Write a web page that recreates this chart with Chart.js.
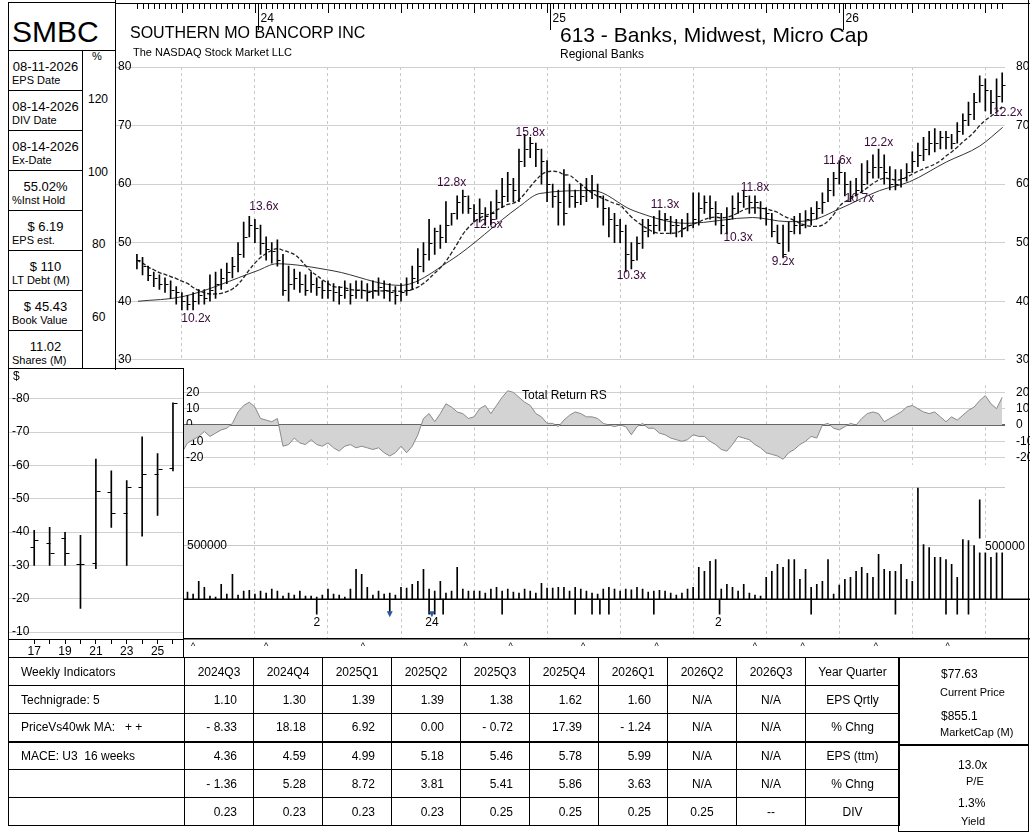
<!DOCTYPE html>
<html>
<head>
<meta charset="utf-8">
<script src="https://cdn.jsdelivr.net/npm/chart.js@4"></script>
<style>
body{margin:0;background:#fff;font-family:"Liberation Sans",Arial,sans-serif;color:#000;}
#wrap{position:relative;width:1032px;height:840px;overflow:hidden;}
canvas{position:absolute;}
.t{position:absolute;white-space:nowrap;}
.box{position:absolute;border:1px solid #000;box-sizing:border-box;}
table{position:absolute;left:8px;top:657px;border-collapse:collapse;font-size:12px;}
td{border:1px solid #000;height:28px;padding:0;box-sizing:border-box;}
td.n{text-align:right;padding-right:16px;}
td.c{text-align:center;}
td.l{text-align:left;padding-left:12px;}
tr.heavy td{border-top:2px solid #000;}
</style>
</head>
<body>
<div id="wrap">
  <!-- panneau gauche -->
  <div class="box" style="left:8px;top:2px;width:108px;height:49px;"></div>
  <div class="t" style="left:12px;top:15px;font-size:30px;">SMBC</div>
  <div id="infos"></div>
  <div class="t" style="left:92px;top:50px;font-size:11px;">%</div>
  <div class="t" style="left:88px;top:92px;font-size:12px;">120</div>
  <div class="t" style="left:88px;top:165px;font-size:12px;">100</div>
  <div class="t" style="left:92px;top:237px;font-size:12px;">80</div>
  <div class="t" style="left:92px;top:310px;font-size:12px;">60</div>

  <canvas id="prix" width="915" height="370" style="left:115px;top:0;"></canvas>
  <canvas id="rs" width="847" height="100" style="left:183px;top:375px;"></canvas>
  <canvas id="vol" width="847" height="175" style="left:183px;top:475px;"></canvas>
  <canvas id="annuel" width="175" height="287" style="left:8px;top:368px;"></canvas>
  <div class="box" style="left:8px;top:368px;width:176px;height:290px;border-width:1px;"></div>
  <div style="position:absolute;left:115px;top:0;width:1px;height:370px;background:#000"></div>
  <div style="position:absolute;left:1028px;top:0;width:1px;height:657px;background:#000"></div>

  <div class="t" style="left:130px;top:24px;font-size:16px;">SOUTHERN MO BANCORP INC</div>
  <div class="t" style="left:133px;top:46px;font-size:11px;">The NASDAQ Stock Market LLC</div>
  <div class="t" style="left:560px;top:23px;font-size:21px;">613 - Banks, Midwest, Micro Cap</div>
  <div class="t" style="left:560px;top:47px;font-size:12px;">Regional Banks</div>
  <div class="t" style="left:522px;top:388px;font-size:12px;">Total Return RS</div>

  <table id="tab"></table>
  <div class="box" style="left:898px;top:657px;width:131px;height:88px;"></div>
  <div class="box" style="left:898px;top:744px;width:131px;height:88px;border-top-width:2px;"></div>
  <div class="t" style="left:941px;top:667px;font-size:12px;">$77.63</div>
  <div class="t" style="left:940px;top:686px;font-size:11px;">Current Price</div>
  <div class="t" style="left:941px;top:709px;font-size:12px;">$855.1</div>
  <div class="t" style="left:940px;top:726px;font-size:11px;">MarketCap (M)</div>
  <div class="t" style="left:958px;top:758px;font-size:12px;">13.0x</div>
  <div class="t" style="left:966px;top:775px;font-size:11px;">P/E</div>
  <div class="t" style="left:958px;top:796px;font-size:12px;">1.3%</div>
  <div class="t" style="left:961px;top:815px;font-size:11px;">Yield</div>
</div>

<script>
// Données hebdomadaires (index 0 = mi-août 2023)
const closes = [
  47,46,44.5,44,43,43,42,41.5,40,39.5,
  40,41,40.5,42,43,44,45,46,48,51,
  53,52.5,50,49,48.5,47,42,43,44,43,
  42,43,42.5,42,42,41.5,41,42,41,42,
  42,41.5,42,42.5,42,41.5,41,41.5,42,44,
  46,48,50,52,51,53,55,57,58,56,
  55,55,54.5,55,57,58,60,59,64,66,
  67,66,64,60,58,57,55,58,57,58,
  59,59,58,56,54,53,52,48,47,50,
  52,53,53,54,54,53,53,52.5,53,54,
  56,57,56,55,53,54,56,57,58,57,
  57,56,55,52,50,48,52,53,53,54,
  55,56,57,59,61,62,60,58,59,60,
  62,63,63,62,60,60,61,62,64,65,
  66,67,67,68,68,67,69,71,72,74,
  77,76,74,75,77
];
const highs = [
  48,47.5,46,45,44.5,44,43.5,42.5,41.5,41,
  41.5,42,42,44.5,45,45.5,46.5,47.5,50,53.5,
  54.5,54,53,51,50,50.5,48,46,45.5,45,
  44.5,45,44,43.5,43.5,43,42.5,43.5,43,43.5,
  43.5,43,43.5,44,43.5,43,42.5,43,44,46,
  49,50,54,52.5,53,57,55,58,59,58,
  56.5,57.5,56,57,59,61,62,61,66,68.5,
  68,67,66,64,60,59,62.5,60,59,60,
  61,61.5,60,58,56,55,54,53,50,51,
  54,54,54.5,55.5,55,54.5,54,54,55,58.5,
  58.5,58,58,57,55,56,58,58.5,59,58,
  58,57,56,55,53,53,53.5,54.5,55,55.5,
  56,57,58.5,61,62,64,62,60.5,61,63.5,
  64,65,66,65,63,62.5,62.5,63.5,65.5,67,
  68,69,69.5,69,69,68.5,70.5,72,74,75.5,
  78.5,78,76,78,79
];
const lows = [
  45.5,44.5,43.5,42.5,42,41.5,40.5,39.5,38.5,38.5,
  38.5,39.5,39.5,40,40.5,42,43,44,45,47.5,
  51,50,48,47,46.5,46,41,40,42,41.5,
  41,41.5,41,40.5,40.5,40,39.5,40.5,39.5,40.5,
  40.5,40,40.5,41,40.5,40,39.5,40,41,42,
  43,45,47,48,49,50,53,54,55,55,
  53.5,53.5,53,53,54,56,57,57,57,63,
  64.5,63,60,57,56,53,53,56,56,56.5,
  57,57.5,56,53,51,50,50,45,45.5,47,
  49,51,51.5,52,52,51.5,51,51,52,52.5,
  53,55,54,53,51.5,51.5,54,55,56,55,
  55,54,53,51,50,47.5,48.5,51.5,51.5,52.5,
  53,54,55,57,58,60,58,57,58,58.5,
  60,61,61,60,59,59,59.5,60.5,62,63,
  64,65,65.5,66,66,66,67,68.5,70,71,
  74,72.5,72,72.5,74
];
// Moyenne 40 semaines (index, valeur)
const ma40Idx = [0.2, 8.2, 21.4, 24.9, 34.9, 46.8, 55.7, 68.1, 71.7, 81.1, 88.3, 97.9, 109.6, 115.7, 119.8, 125.1, 132.2, 137.5, 144.1, 150, 154.1];
const ma40Val = [40, 40.8, 45.2, 46.4, 45.2, 42.7, 46.9, 56.2, 58.4, 58.9, 55.5, 53.3, 54.3, 53.6, 53.8, 55.8, 58.9, 60.4, 63.8, 66.5, 69.7];

// Total Return RS, à partir de l'index 8
const rsStart = 8;
const rsValues = [
  -17,-11,-9,-7,-4,-7,-5,-3,-2,1,8,12,14,11,4,3,2,4,
  -13,-12,-8,-11,-12,-9,-12,-13,-11,-14,-16,-13,-12,-14,-13,-14,-15,-14,-17,-19,-17,-13,-17,-13,
  -6,4,7,2,7,13,11,8,7,4,5,10,12,7,12,17,21,20,17,14,12,7,5,1,1,-1,3,6,8,7,5,5,4,1,0,-1,0,-1,-6,-1,1,
  -2,-2,-5,-6,-8,-9,-10,-9,-6,-7,-7,-10,-12,-15,-16,-12,-7,-8,-9,-12,-14,-17,-18,-19,-21,-17,-15,-12,-10,-7,-8,
  0,1,-2,-3,-1,1,0,4,7,8,7,2,4,6,8,11,12,10,8,7,8,5,2,5,3,6,9,11,15,18,13,10,17
];
// Volume (milliers), à partir de l'index 8
const volStart = 8;
const volumes = [
  65,65,46,167,111,28,19,139,46,232,37,74,83,46,
  74,56,93,74,28,56,37,74,28,28,19,37,93,
  46,37,19,93,278,232,111,37,74,46,56,37,111,
  102,139,167,278,93,74,167,56,74,296,93,74,74,
  74,56,93,111,74,93,65,56,93,74,56,148,102,
  102,111,111,74,111,93,74,56,46,93,111,93,74,
  93,86,111,93,65,74,83,74,56,37,56,93,111,
  296,259,352,370,93,139,111,74,139,56,37,28,204,
  259,324,296,370,370,185,278,111,139,167,370,46,130,
  185,204,259,296,241,204,417,278,259,259,324,185,167,
  1037,509,482,389,389,370,324,204,556,546,500,926,482,389,444,482
];
const eventIdx = [32, 45, 52, 53, 54.5, 65, 78, 81, 82.4, 84, 92, 103.7, 120, 135, 144, 146, 148];
const eventTriangles = [45, 52.5];
const eventLabels = [{i: 32, t: '2'}, {i: 52.5, t: '24'}, {i: 103.5, t: '2'}];
const earningsIdx = [10, 23, 40.2, 58.5, 66.5, 79.4, 92.5, 110, 118.5, 131.5, 144.3];

const gridIdx = [8, 21, 34, 47, 60, 73, 86, 99, 112, 125, 138, 151];
const yearIdx = [{i: 21.5, t: '24'}, {i: 73.5, t: '25'}, {i: 125.6, t: '26'}];
const peLabels = [
  {i: 10.5, p: 36.4, t: '10.2x'}, {i: 22.6, p: 55.5, t: '13.6x'}, {i: 56, p: 59.6, t: '12.8x'},
  {i: 62.5, p: 52.5, t: '12.5x'}, {i: 70, p: 68.3, t: '15.8x'}, {i: 94, p: 56, t: '11.3x'},
  {i: 88, p: 43.8, t: '10.3x'}, {i: 110, p: 58.9, t: '11.8x'}, {i: 107, p: 50.3, t: '10.3x'},
  {i: 115, p: 46.2, t: '9.2x'}, {i: 124.7, p: 63.4, t: '11.6x'}, {i: 128.6, p: 57, t: '10.7x'},
  {i: 132, p: 66.5, t: '12.2x'}, {i: 155, p: 71.7, t: '12.2x'}
];

// Barres annuelles
const years = [17, 18, 19, 20, 21, 22, 23, 24, 25, 26];
const yearHigh = [40.5, 41.4, 39.9, 39, 61.9, 58.4, 55.5, 68.6, 63.6, 78.8];
const yearLow = [30, 30, 30, 17.1, 29, 41.4, 30, 38.8, 45, 58.4];
const yearOpen = [35.6, 36.8, 38.2, 30.5, 30.8, 51.9, 45.7, 53.4, 57.5, 59.2];
const yearClose = [37.6, 33.8, 33.8, 30.5, 52.2, 45.7, 53.4, 57.5, 59, 78.7];

// Tableau
const quarters = ['2024Q3','2024Q4','2025Q1','2025Q2','2025Q3','2025Q4','2026Q1','2026Q2','2026Q3'];
const epsQtr = ['1.10','1.30','1.39','1.39','1.38','1.62','1.60','N/A','N/A'];
const epsQtrChg = ['- 8.33','18.18','6.92','0.00','- 0.72','17.39','- 1.24','N/A','N/A'];
const epsTtm = ['4.36','4.59','4.99','5.18','5.46','5.78','5.99','N/A','N/A'];
const epsTtmChg = ['- 1.36','5.28','8.72','3.81','5.41','5.86','3.63','N/A','N/A'];
const divs = ['0.23','0.23','0.23','0.23','0.25','0.25','0.25','0.25','--'];

const infos = [
  ['08-11-2026', 'EPS Date'], ['08-14-2026', 'DIV Date'], ['08-14-2026', 'Ex-Date'],
  ['55.02%', '%Inst Hold'], ['$ 6.19', 'EPS est.'], ['$ 110', 'LT Debt (M)'],
  ['$ 45.43', 'Book Value'], ['11.02', 'Shares (M)']
];

const X_MIN = -3.9, X_MAX = 154.5;
const FONT = {family: '"Liberation Sans", Arial, sans-serif', size: 12};
const GRID_V = '#c8c8c8';

// panneau d'infos
let html = '';
infos.forEach((r, k) => {
  const top = 50 + k * 40;
  html += `<div class="box" style="left:8px;top:${top}px;width:75px;height:${k === 7 ? 39 : 41}px;"></div>`;
  html += `<div class="t" style="left:8px;width:75px;text-align:center;top:${top + 9}px;font-size:13px;">${r[0]}</div>`;
  html += `<div class="t" style="left:12px;top:${top + 24}px;font-size:11px;">${r[1]}</div>`;
});
document.getElementById('infos').innerHTML = html;

// tableau du bas
function ligne(label, vals, right, cls) {
  let s = `<tr class="${cls || ''}"><td class="l" style="width:176px">${label}</td>`;
  vals.forEach((v, k) => {
    const c = (v === 'N/A' || v === '--' || k >= 7) ? 'c' : 'n';
    s += `<td class="${c}" style="width:69px">${v}</td>`;
  });
  return s + `<td class="c" style="width:94px">${right}</td></tr>`;
}
let tab = `<tr><td class="l" style="width:176px">Weekly Indicators</td>` +
  quarters.map(q => `<td class="c" style="width:69px">${q}</td>`).join('') +
  `<td class="c" style="width:94px">Year Quarter</td></tr>`;
tab += ligne('Technigrade: 5', epsQtr, 'EPS Qrtly');
tab += ligne('PriceVs40wk MA:&nbsp;&nbsp; + +', epsQtrChg, '% Chng');
tab += ligne('MACE: U3&nbsp; 16 weeks', epsTtm, 'EPS (ttm)', 'heavy');
tab += ligne('', epsTtmChg, '% Chng');
tab += ligne('', divs, 'DIV');
document.getElementById('tab').innerHTML = tab;

// moyenne mobile 10 semaines
function moyenne(n) {
  return closes.map((c, i) => {
    const a = closes.slice(Math.max(0, i - n + 1), i + 1);
    return {x: i, y: a.reduce((s, v) => s + v, 0) / a.length};
  });
}

function grilleX(scale) { scale.ticks = gridIdx.map(v => ({value: v})); }
const xCommun = (min) => ({
  type: 'linear', min: min, max: X_MAX, offset: false,
  afterBuildTicks: grilleX,
  ticks: {display: false},
  grid: {color: GRID_V, drawTicks: false, offset: false},
  border: {display: false, dash: [3, 3]},
  afterFit: s => { s.height = 0; }
});

// plugin: ticks de clôture, étiquettes P/E, règle du haut
const decorPrix = {
  id: 'decorPrix',
  afterDatasetsDraw(chart) {
    const {ctx, scales: {x, y}} = chart;
    ctx.save();
    ctx.strokeStyle = '#000';
    ctx.lineWidth = 1;
    closes.forEach((c, i) => {
      const px = Math.round(x.getPixelForValue(i)) + 0.5;
      const py = Math.round(y.getPixelForValue(c)) + 0.5;
      ctx.beginPath(); ctx.moveTo(px, py); ctx.lineTo(px + 3, py); ctx.stroke();
    });
    ctx.fillStyle = '#3b0a3b';
    ctx.font = '12px "Liberation Sans", Arial';
    ctx.textAlign = 'center';
    peLabels.forEach(l => ctx.fillText(l.t, x.getPixelForValue(l.i), y.getPixelForValue(l.p)));
    // règle du haut
    ctx.fillStyle = '#000';
    ctx.beginPath(); ctx.moveTo(0, 3.5); ctx.lineTo(chart.width, 3.5); ctx.stroke();
    for (let i = 0; i <= 154; i++) {
      const px = Math.round(x.getPixelForValue(i)) + 0.5;
      ctx.beginPath(); ctx.moveTo(px, 3); ctx.lineTo(px, 9); ctx.stroke();
    }
    gridIdx.forEach(g => {
      const px = Math.round(x.getPixelForValue(g)) + 0.5;
      ctx.beginPath(); ctx.moveTo(px, 3); ctx.lineTo(px, 13); ctx.stroke();
    });
    ctx.textAlign = 'left';
    yearIdx.forEach(yv => {
      const px = Math.round(x.getPixelForValue(yv.i)) + 0.5;
      ctx.beginPath(); ctx.moveTo(px, 3); ctx.lineTo(px, 30); ctx.stroke();
      ctx.fillText(yv.t, px + 2, 22);
    });
    ctx.restore();
  }
};

new Chart(document.getElementById('prix'), {
  type: 'bar',
  data: {
    datasets: [
      {type: 'bar', data: closes.map((c, i) => ({x: i, y: [lows[i], highs[i]]})),
        backgroundColor: '#000', barThickness: 1, grouped: false, order: 1},
      {type: 'line', data: moyenne(10), borderColor: '#222', borderWidth: 1.3, borderDash: [4, 2],
        pointRadius: 0, tension: 0.4, order: 2},
      {type: 'line', data: ma40Idx.map((v, k) => ({x: v, y: ma40Val[k]})), borderColor: '#333', borderWidth: 1,
        pointRadius: 0, cubicInterpolationMode: 'monotone', order: 3}
    ]
  },
  options: {
    responsive: false, animation: false,
    layout: {padding: {top: 67, bottom: 7}},
    plugins: {legend: {display: false}, tooltip: {enabled: false}},
    scales: {
      x: xCommun(X_MIN),
      y: {min: 30, max: 80, position: 'left',
        ticks: {stepSize: 10, mirror: true, padding: 3, color: '#000', font: FONT},
        grid: {color: '#d0d0d0', drawTicks: false}, border: {display: false},
        afterFit: s => { s.width = 0; }},
      y2: {min: 30, max: 80, position: 'right',
        ticks: {stepSize: 10, color: '#000', font: FONT, padding: 3},
        grid: {display: false}, border: {display: false},
        afterFit: s => { s.width = 25; }}
    }
  },
  plugins: [decorPrix]
});

// Total Return RS
new Chart(document.getElementById('rs'), {
  type: 'line',
  data: {datasets: [{data: rsValues.map((v, k) => ({x: k + rsStart, y: v})),
    fill: 'origin', backgroundColor: '#d3d3d3', borderColor: '#8a8a8a', borderWidth: 1,
    pointRadius: 0, tension: 0}]},
  options: {
    responsive: false, animation: false,
    plugins: {legend: {display: false}, tooltip: {enabled: false}},
    scales: {
      x: xCommun(8.2),
      y: {min: -24.4, max: 24.4, afterBuildTicks: s => { s.ticks = [-20, -10, 0, 10, 20].map(v => ({value: v})); },
        ticks: {mirror: true, padding: 3, color: '#000', font: FONT},
        grid: {color: c => c.tick.value === 0 ? '#666' : '#d0d0d0', lineWidth: c => c.tick.value === 0 ? 2 : 1, drawTicks: false},
        border: {display: false}, afterFit: s => { s.width = 0; }},
      y2: {min: -24.4, max: 24.4, position: 'right',
        afterBuildTicks: s => { s.ticks = [-20, -10, 0, 10, 20].map(v => ({value: v})); },
        ticks: {color: '#000', font: FONT, padding: 3}, grid: {display: false}, border: {display: false},
        afterFit: s => { s.width = 25; }}
    }
  }
});

// Volume
const decorVol = {
  id: 'decorVol',
  afterDatasetsDraw(chart) {
    const {ctx, scales: {x, y}, chartArea: a} = chart;
    ctx.save();
    ctx.strokeStyle = '#000'; ctx.lineWidth = 1.5;
    const y0 = y.getPixelForValue(0);
    ctx.beginPath(); ctx.moveTo(a.left, y0); ctx.lineTo(chart.width, y0); ctx.stroke();
    ctx.beginPath(); ctx.moveTo(a.left, a.bottom); ctx.lineTo(chart.width, a.bottom); ctx.stroke();
    ctx.fillStyle = '#2a5aa0';
    eventTriangles.forEach(i => {
      const px = x.getPixelForValue(i), py = y.getPixelForValue(-140);
      ctx.beginPath(); ctx.moveTo(px - 3, py - 3); ctx.lineTo(px + 3, py - 3); ctx.lineTo(px, py + 3); ctx.fill();
    });
    ctx.fillStyle = '#000';
    ctx.font = '12px "Liberation Sans", Arial';
    ctx.textAlign = 'center';
    eventLabels.forEach(l => ctx.fillText(l.t, x.getPixelForValue(l.i), y.getPixelForValue(-250)));
    ctx.font = '9px "Liberation Sans", Arial';
    earningsIdx.forEach(i => ctx.fillText('^', x.getPixelForValue(i), a.bottom + 10));
    // étiquette 500000 à droite
    ctx.textAlign = 'right';
    ctx.font = '12px "Liberation Sans", Arial';
    const py = y.getPixelForValue(500);
    ctx.fillStyle = '#fff'; ctx.fillRect(a.right - 30, py - 7, 52, 14);
    ctx.fillStyle = '#000'; ctx.fillText('500000', a.right + 20, py + 4);
    ctx.restore();
  }
};

new Chart(document.getElementById('vol'), {
  type: 'bar',
  data: {datasets: [
    {data: volumes.map((v, k) => ({x: k + volStart, y: v})), backgroundColor: '#000', barThickness: 1, grouped: false},
    {data: eventIdx.map(i => ({x: i, y: -140})), backgroundColor: '#000', barThickness: 1, grouped: false}
  ]},
  options: {
    responsive: false, animation: false,
    layout: {padding: {top: 12, bottom: 10}},
    plugins: {legend: {display: false}, tooltip: {enabled: false}},
    scales: {
      x: xCommun(8.2),
      y: {min: -370, max: 1046, afterBuildTicks: s => { s.ticks = [{value: 500}, {value: 1046}]; },
        ticks: {mirror: true, padding: 4, color: '#000', font: FONT,
          callback: v => v === 500 ? '500000' : ''},
        grid: {color: '#c8c8c8', drawTicks: false}, border: {display: false},
        afterFit: s => { s.width = 0; }},
      y2: {position: 'right', min: -370, max: 1046, ticks: {display: false}, grid: {display: false},
        border: {display: false}, afterFit: s => { s.width = 25; }}
    }
  },
  plugins: [decorVol]
});

// Graphique annuel
const decorAnnuel = {
  id: 'decorAnnuel',
  afterDatasetsDraw(chart) {
    const {ctx, scales: {x, y}} = chart;
    ctx.save();
    ctx.strokeStyle = '#000'; ctx.lineWidth = 1;
    years.forEach((yr, k) => {
      const px = Math.round(x.getPixelForValue(yr)) + 0.5;
      const po = Math.round(y.getPixelForValue(yearOpen[k])) + 0.5;
      const pc = Math.round(y.getPixelForValue(yearClose[k])) + 0.5;
      ctx.beginPath(); ctx.moveTo(px - 4, po); ctx.lineTo(px, po); ctx.stroke();
      ctx.beginPath(); ctx.moveTo(px, pc); ctx.lineTo(px + 4, pc); ctx.stroke();
    });
    ctx.font = '12px "Liberation Sans", Arial';
    ctx.fillStyle = '#000';
    ctx.fillText('$', 5, 12);
    ctx.restore();
  }
};

new Chart(document.getElementById('annuel'), {
  type: 'bar',
  data: {datasets: [{data: years.map((yr, k) => ({x: yr, y: [yearLow[k], yearHigh[k]]})),
    backgroundColor: '#000', barThickness: 1, grouped: false}]},
  options: {
    responsive: false, animation: false,
    layout: {padding: {top: 7}},
    plugins: {legend: {display: false}, tooltip: {enabled: false}},
    scales: {
      x: {type: 'linear', min: 15.3, max: 26.65, offset: false,
        afterBuildTicks: s => { s.ticks = years.map(v => ({value: v})); },
        ticks: {color: '#000', font: FONT, padding: 0, maxRotation: 0,
          callback: v => (v % 2 === 1 && v < 26) ? String(v) : ''},
        grid: {display: true, drawOnChartArea: false, tickLength: 5, color: '#000', offset: false},
        border: {color: '#000'},
        afterFit: s => { s.height = 16; }},
      y: {min: 7.9, max: 85.9, afterBuildTicks: s => { s.ticks = [10, 20, 30, 40, 50, 60, 70, 80].map(v => ({value: v})); },
        ticks: {mirror: true, padding: 4, color: '#000', font: FONT, callback: v => '-' + v},
        grid: {color: '#d0d0d0', drawTicks: false}, border: {display: false},
        afterFit: s => { s.width = 0; }}
    }
  },
  plugins: [decorAnnuel]
});
</script>
</body>
</html>
